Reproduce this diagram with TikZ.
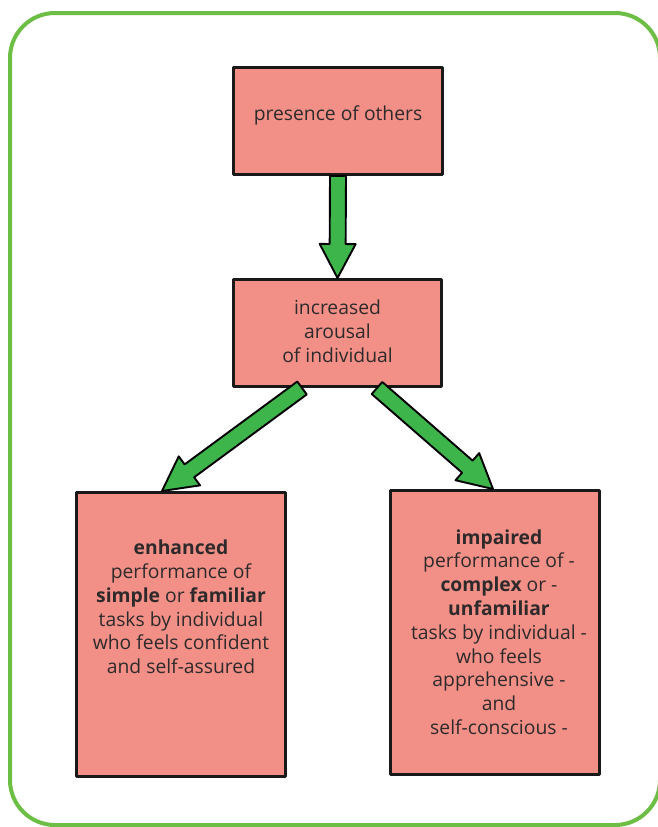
\documentclass[tikz,border=0pt]{standalone}
\usepackage{fontspec}
\setmainfont{Open Sans}
\usetikzlibrary{calc}
\definecolor{boxfill}{HTML}{F29087}
\definecolor{arrowgreen}{HTML}{3DB54A}
\definecolor{framegreen}{HTML}{6DBE45}
\definecolor{inktext}{HTML}{2E2A2B}

% fat outlined arrow from #1 to #2
\newcommand\fatarrow[2]{%
  \coordinate (fa-s) at (#1);
  \coordinate (fa-e) at (#2);
  \coordinate (fa-h) at ($(fa-e)!34pt!(fa-s)$);
  \draw[arrowshape]
    ($(fa-s)!8pt!90:(fa-e)$) -- ($(fa-h)!8pt!-90:(fa-s)$) --
    ($(fa-h)!18pt!-90:(fa-s)$) -- (fa-e) --
    ($(fa-h)!18pt!90:(fa-s)$) -- ($(fa-h)!8pt!90:(fa-s)$) --
    ($(fa-s)!8pt!-90:(fa-e)$) -- cycle;
}

\tikzset{
  stepbox/.style={draw=black!90, fill=boxfill, line width=3pt, line join=round,
    rectangle, inner sep=0pt, anchor=north west},
  boxtext/.style={text=inktext, font=\fontsize{19.3}{23.8}\selectfont,
    align=center, inner sep=0pt},
  arrowshape/.style={draw=black, fill=arrowgreen, line width=1.9pt, line join=round},
}

\begin{document}
\begin{tikzpicture}[x=1pt, y=-1pt]
  \useasboundingbox (0,0) rectangle (657,827);
  \draw[framegreen, line width=4pt, rounded corners=45pt] (10,13) rectangle (660,825);

  \node[stepbox, minimum width=209pt, minimum height=107pt] (b1) at (232,66) {};
  \node[stepbox, minimum width=208pt, minimum height=107pt] (b2) at (232,278) {};
  \node[stepbox, minimum width=209pt, minimum height=284pt] (b3) at (75,491) {};
  \node[stepbox, minimum width=209pt, minimum height=284pt] (b4) at (389,489) {};

  \node[boxtext] (t1) at ($(b1.center)+(0,-6)$) {presence of others};
  \node[boxtext] (t2) at ($(b2.center)+(0,-2)$) {increased\\arousal\\of individual};
  \node[boxtext] (t3) at ($(b3.north)+(0,116)$)
    {\textbf{enhanced}\\performance of\\\textbf{simple} or \textbf{familiar}\\tasks by individual\\who feels confident\\and self-assured};
  \node[boxtext] (t4) at ($(b4.north)+(4,143)$)
    {\textbf{impaired}\\performance of -\\\textbf{complex} or -\\\textbf{unfamiliar}\\tasks by individual -\\who feels\\apprehensive -\\and\\self-conscious -};

  \fatarrow{b1.south}{b2.north}
  \fatarrow{$(b2.south west)+(70,0)$}{$(b3.north west)+(87,0)$}
  \fatarrow{$(b2.south west)+(145,0)$}{$(b4.north west)+(104,0)$}
\end{tikzpicture}
\end{document}
